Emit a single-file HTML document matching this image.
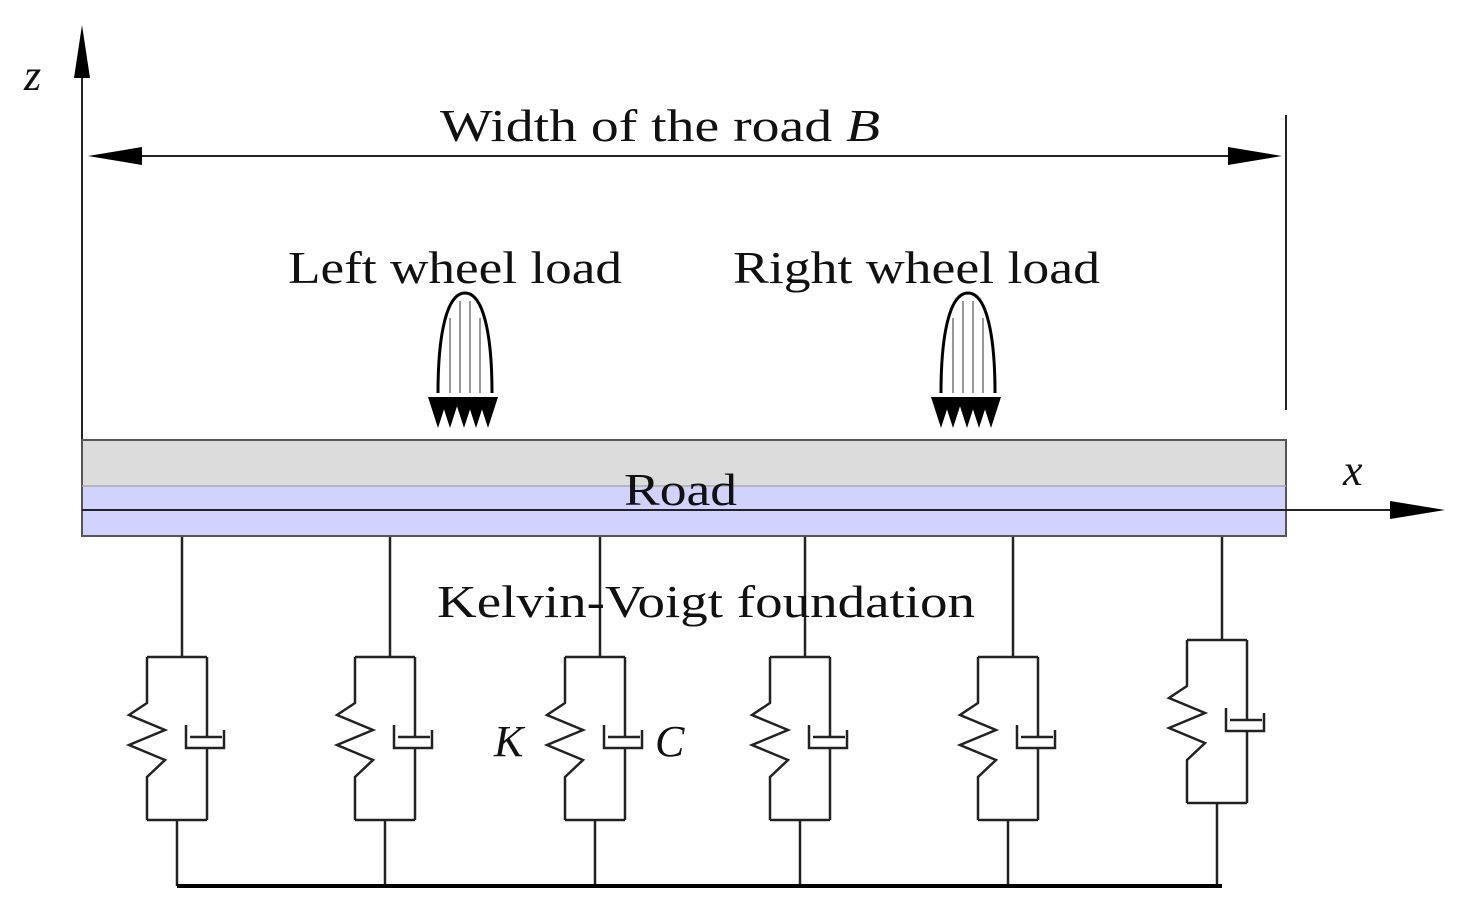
<!DOCTYPE html>
<html><head><style>body{margin:0;background:#fff}svg{display:block}text{font-family:"Liberation Serif",serif;fill:#111}</style></head>
<body>
<svg width="1462" height="924" viewBox="0 0 1462 924" xmlns="http://www.w3.org/2000/svg">
<defs>
<g id="unit" stroke="#222" stroke-width="2.5" fill="none">
<path d="M-35,117 H25"/>
<path d="M-35,117 V163 L-53,175 L-17,190 L-53,205 L-17,220 L-35,237 V280"/>
<path d="M25,117 V197 M8,197 H40"/>
<path d="M4,185 V208 H42 V190 M25,208 V280"/>
<path d="M-35,280 H25"/>
</g>
<g id="load">
<path d="M-27,100 C-27,40 -18,0 0,0 C18,0 27,40 27,100" stroke="#000" stroke-width="3" fill="none"/>
<path d="M-15,25 V100 M-5,8 V100 M5,8 V100 M15,25 V100" stroke="#777" stroke-width="1.5"/>
<path d="M-37,104 L-27,135 L-17,104 Z M-25,104 L-15,135 L-5,104 Z M-11,104 L-1,135 L9,104 Z M1,104 L11,135 L21,104 Z M13,104 L23,135 L33,104 Z" fill="#000"/>
</g>
</defs>
<line x1="82" y1="440" x2="82" y2="50" stroke="#222" stroke-width="2"/>
<path d="M82,25 L74,78 L90,78 Z" fill="#000"/>
<text x="24" y="90" font-size="44" font-style="italic">z</text>
<line x1="1286" y1="115" x2="1286" y2="410" stroke="#222" stroke-width="2"/>
<line x1="110" y1="156" x2="1255" y2="156" stroke="#222" stroke-width="2"/>
<path d="M88,156 L142,147 L142,165 Z M1282,156 L1228,147 L1228,165 Z" fill="#000"/>
<text x="440" y="141" font-size="46" textLength="440" lengthAdjust="spacingAndGlyphs">Width of the road <tspan font-style="italic">B</tspan></text>
<text x="288" y="283" font-size="46" textLength="334" lengthAdjust="spacingAndGlyphs">Left wheel load</text>
<text x="733" y="283" font-size="46" textLength="367" lengthAdjust="spacingAndGlyphs">Right wheel load</text>
<use href="#load" x="465" y="293"/>
<use href="#load" x="968" y="293"/>
<rect x="82" y="440" width="1204" height="46" fill="#dcdcdc"/>
<rect x="82" y="486" width="1204" height="50" fill="#d2d2ff"/>
<rect x="82" y="440" width="1204" height="96" fill="none" stroke="#555" stroke-width="2"/>
<line x1="82" y1="486" x2="1286" y2="486" stroke="#aaa" stroke-width="1.5"/>
<line x1="82" y1="510" x2="1395" y2="510" stroke="#222" stroke-width="2"/>
<path d="M1445,510 L1390,501 L1390,519 Z" fill="#000"/>
<text x="1343" y="485" font-size="44" font-style="italic">x</text>
<text x="624" y="505" font-size="46" textLength="113" lengthAdjust="spacingAndGlyphs">Road</text>
<g transform="translate(182,540)"><use href="#unit"/></g>
<g transform="translate(390,540)"><use href="#unit"/></g>
<g transform="translate(600,540)"><use href="#unit"/></g>
<g transform="translate(805,540)"><use href="#unit"/></g>
<g transform="translate(1013,540)"><use href="#unit"/></g>
<g transform="translate(1222,523)"><use href="#unit"/></g>
<g stroke="#222" stroke-width="2.5">
<path d="M182,537 V657 M390,537 V657 M600,537 V657 M805,537 V657 M1013,537 V657 M1222,537 V640"/>
<path d="M177,820 V886 M385,820 V886 M595,820 V886 M800,820 V886 M1008,820 V886 M1217,803 V886"/>
</g>
<line x1="177" y1="886" x2="1222" y2="886" stroke="#000" stroke-width="4"/>
<text x="437" y="617" font-size="46" textLength="538" lengthAdjust="spacingAndGlyphs">Kelvin-Voigt foundation</text>
<text x="494" y="756" font-size="44" font-style="italic">K</text>
<text x="655" y="756" font-size="44" font-style="italic">C</text>
</svg>
</body></html>
